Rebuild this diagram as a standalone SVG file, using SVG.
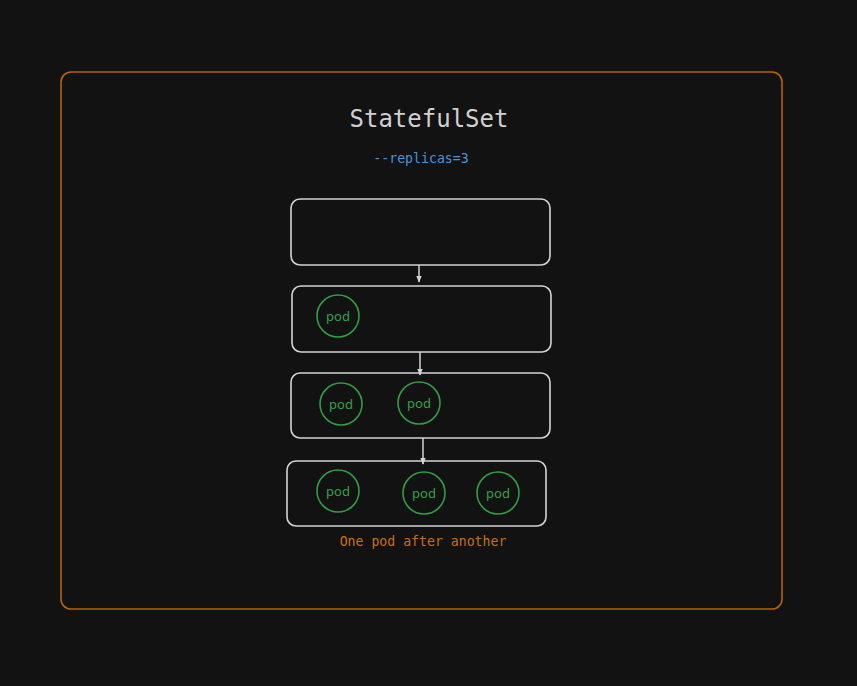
<svg xmlns="http://www.w3.org/2000/svg" width="857" height="686" viewBox="0 0 857 686">
<style>
.frame{fill:none;stroke:#b86200;stroke-width:1.6}
.box{fill:none;stroke:#d4d4d4;stroke-width:1.6}
.pod circle{fill:none;stroke:#2f9e44;stroke-width:1.6}
.pod text{fill:#36a04c;font-family:"Noto Sans","Open Sans",sans-serif;font-size:13px;text-anchor:middle}
.conn line{stroke:#d4d4d4;stroke-width:1.5}
.mono{font-family:"DejaVu Sans Mono","Liberation Mono",monospace;text-anchor:middle}
</style>
<defs>
<marker id="arr" viewBox="0 0 10 10" refX="9" refY="5" markerWidth="7" markerHeight="7" orient="auto" markerUnits="userSpaceOnUse">
<path d="M0,1 L10,5 L0,9 Z" fill="#d4d4d4"/>
</marker>
</defs>
<rect width="857" height="686" fill="#121212"/>
<g id="statefulset">
<rect class="frame" x="61" y="72" width="721" height="537" rx="10"/>
<text class="mono" x="429" y="127" font-size="24" fill="#d0d0d0">StatefulSet</text>
<text class="mono" x="421" y="163" font-size="13.2" fill="#4a94d9">--replicas=3</text>
<text class="mono" x="423" y="546" font-size="13.2" fill="#c8700f">One pod after another</text>
</g>
<g id="box1"><rect class="box" x="291" y="199" width="259" height="66" rx="9"/></g>
<g id="box2"><rect class="box" x="292" y="286" width="259" height="66" rx="9"/></g>
<g id="box3"><rect class="box" x="291" y="373" width="259" height="65" rx="9"/></g>
<g id="box4"><rect class="box" x="287" y="461" width="259" height="65" rx="9"/></g>
<g id="pod2a" class="pod"><circle cx="338" cy="316" r="21"/><text x="338" y="321">pod</text></g>
<g id="pod3a" class="pod"><circle cx="341" cy="404" r="21"/><text x="341" y="409">pod</text></g>
<g id="pod3b" class="pod"><circle cx="419" cy="403" r="21"/><text x="419" y="408">pod</text></g>
<g id="pod4a" class="pod"><circle cx="338" cy="491" r="21"/><text x="338" y="496">pod</text></g>
<g id="pod4b" class="pod"><circle cx="424" cy="493" r="21"/><text x="424" y="498">pod</text></g>
<g id="pod4c" class="pod"><circle cx="498" cy="493" r="21"/><text x="498" y="498">pod</text></g>
<g id="connectors" class="conn">
<line x1="419" y1="265" x2="419" y2="282" marker-end="url(#arr)"/>
<line x1="420" y1="352" x2="420" y2="375" marker-end="url(#arr)"/>
<line x1="423" y1="438" x2="423" y2="464" marker-end="url(#arr)"/>
</g>
</svg>
